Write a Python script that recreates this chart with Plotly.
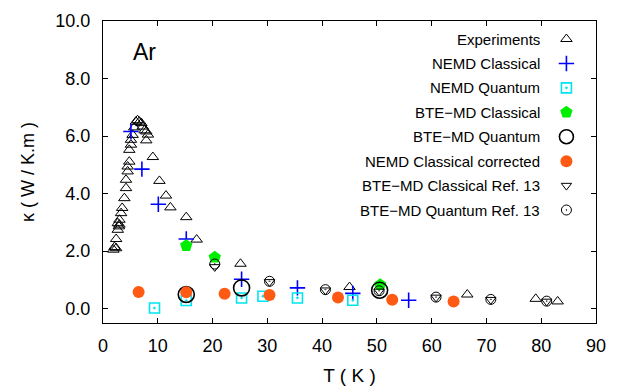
import plotly.graph_objects as go

# ---------------- data ----------------
exp_T = [1.9, 2.1, 2.4, 2.4, 2.7, 2.7, 2.9, 3.0, 3.0, 3.3, 3.5, 3.9, 4.2, 4.2, 4.5, 4.5,
         4.8, 4.8, 5.1, 5.1, 5.4, 5.7, 6.0, 6.3, 6.65, 7.0, 7.25, 7.6, 7.9, 8.2, 7.9,
         9.1, 10.3, 11.5, 12.3, 15.2, 17.1, 25.1, 45.0, 66.5, 79.0, 83.0]
exp_k = [2.05, 2.14, 2.42, 2.1, 2.74, 2.97, 2.86, 3.09, 2.92, 3.32, 3.5, 3.84, 4.19, 4.48, 4.77, 4.94,
         5.11, 5.52, 5.7, 5.87, 6.04, 6.3, 6.5, 6.55, 6.5, 6.45, 6.33, 6.2, 6.16, 6.05, 5.85,
         5.27, 4.44, 3.93, 3.52, 3.18, 2.4, 1.56, 0.75, 0.49, 0.34, 0.25]

nemd_cl_T = [5.1, 7.1, 10.1, 15.2, 25.3, 35.5, 45.6, 55.8]
nemd_cl_k = [6.16, 4.85, 3.63, 2.42, 1.02, 0.72, 0.53, 0.29]

nemd_qu_T = [9.4, 15.2, 25.3, 29.2, 35.5, 45.6]
nemd_qu_k = [0.02, 0.28, 0.37, 0.43, 0.37, 0.29]

bte_cl_T = [15.2, 20.4, 50.6]
bte_cl_k = [2.19, 1.79, 0.83]

bte_qu_T = [15.2, 25.3, 50.5]
bte_qu_k = [0.49, 0.72, 0.64]

nemd_corr_T = [6.5, 15.2, 22.2, 30.4, 42.9, 52.8, 64.0]
nemd_corr_k = [0.58, 0.57, 0.52, 0.47, 0.39, 0.31, 0.25]

ref_cl_T = [20.4, 30.4, 40.6, 50.4, 60.8, 70.8, 81.0]
ref_cl_k = [1.45, 0.93, 0.64, 0.60, 0.39, 0.31, 0.25]

ref_qu_T = [20.4, 30.4, 40.6, 50.4, 60.8, 70.8, 81.0]
ref_qu_k = [1.55, 0.95, 0.66, 0.62, 0.40, 0.32, 0.26]

names = ["Experiments", "NEMD Classical", "NEMD Quantum", "BTE\u2212MD Classical",
         "BTE\u2212MD Quantum", "NEMD Classical corrected",
         "BTE\u2212MD Classical Ref. 13", "BTE\u2212MD Quantum Ref. 13"]

x_ticks = [0, 10, 20, 30, 40, 50, 60, 70, 80, 90]
y_ticks = [0, 2, 4, 6, 8, 10]

# ---------------- styles ----------------
styles = [
    dict(symbol="triangle-up-open", size=10, color="black", line=dict(width=1, color="black")),
    dict(symbol="cross-thin-open", size=11, color="#0000ff", line=dict(width=1.6, color="#0000ff")),
    dict(symbol="square-open-dot", size=10, color="#00e5ee", line=dict(width=1.6, color="#00e5ee")),
    dict(symbol="pentagon", size=13, color="#00ee00", line=dict(width=0, color="#00ee00")),
    dict(symbol="circle-open", size=16, color="black", line=dict(width=1.6, color="black")),
    dict(symbol="circle", size=12, color="#ff5a14", line=dict(width=0, color="#ff5a14")),
    dict(symbol="triangle-down-open", size=9, color="black", line=dict(width=1, color="black")),
    dict(symbol="circle-open-dot", size=10, color="black", line=dict(width=1, color="black")),
]
series = [(exp_T, exp_k), (nemd_cl_T, nemd_cl_k), (nemd_qu_T, nemd_qu_k), (bte_cl_T, bte_cl_k),
          (bte_qu_T, bte_qu_k), (nemd_corr_T, nemd_corr_k), (ref_cl_T, ref_cl_k), (ref_qu_T, ref_qu_k)]

FONT = "Liberation Sans, Arial, Helvetica, sans-serif"

fig = go.Figure()
for (tx, ky), name, st in zip(series, names, styles):
    fig.add_trace(go.Scatter(x=tx, y=ky, mode="markers", name=name, marker=st,
                             showlegend=False, hoverinfo="x+y+name"))

# ---------------- custom legend (text right, symbol to the right) ----------------
for i, (name, st) in enumerate(zip(names, styles)):
    lst = dict(st)
    if st["symbol"] == "circle-open":
        lst = dict(st, size=14)
    fig.add_trace(go.Scatter(x=[0.94], y=[i], mode="markers", marker=lst,
                             xaxis="x2", yaxis="y2", showlegend=False, hoverinfo="skip"))
    fig.add_annotation(x=0.89, y=i, xref="x2", yref="y2", text=name, showarrow=False,
                       xanchor="right", yanchor="middle",
                       font=dict(family=FONT, size=15, color="black"))

fig.add_annotation(x=0.056, y=0.897, xref="paper", yref="paper", text="Ar", showarrow=False,
                   xanchor="left", yanchor="middle", font=dict(family=FONT, size=23, color="black"))

axis_common = dict(showline=True, linecolor="black", linewidth=1.2, mirror="ticks",
                   ticks="inside", ticklen=5, tickwidth=1, tickcolor="black",
                   showgrid=False, zeroline=False, automargin=False,
                   tickfont=dict(family=FONT, size=18, color="black"))

fig.update_layout(
    width=619, height=386,
    margin=dict(l=103, r=23, t=21, b=63, autoexpand=False),
    paper_bgcolor="white", plot_bgcolor="white",
    showlegend=False,
    xaxis=dict(range=[0, 90], tickvals=x_ticks, ticktext=[str(v) for v in x_ticks],
               title=dict(text="T ( K )", font=dict(family=FONT, size=19, color="black")),
               ticklabelstandoff=6, **axis_common),
    yaxis=dict(range=[-0.5, 10], tickvals=y_ticks, ticktext=["%.1f" % v for v in y_ticks],
               title=dict(text="\u03ba ( W / K.m )", font=dict(family=FONT, size=18, color="black")),
               ticklabelstandoff=8, **axis_common),
    xaxis2=dict(range=[0, 1], visible=False, overlaying="x", anchor="y2", fixedrange=True),
    yaxis2=dict(range=[11.625, -0.737], visible=False, overlaying="y", anchor="x2", fixedrange=True),
)

fig.write_html("out.html")
